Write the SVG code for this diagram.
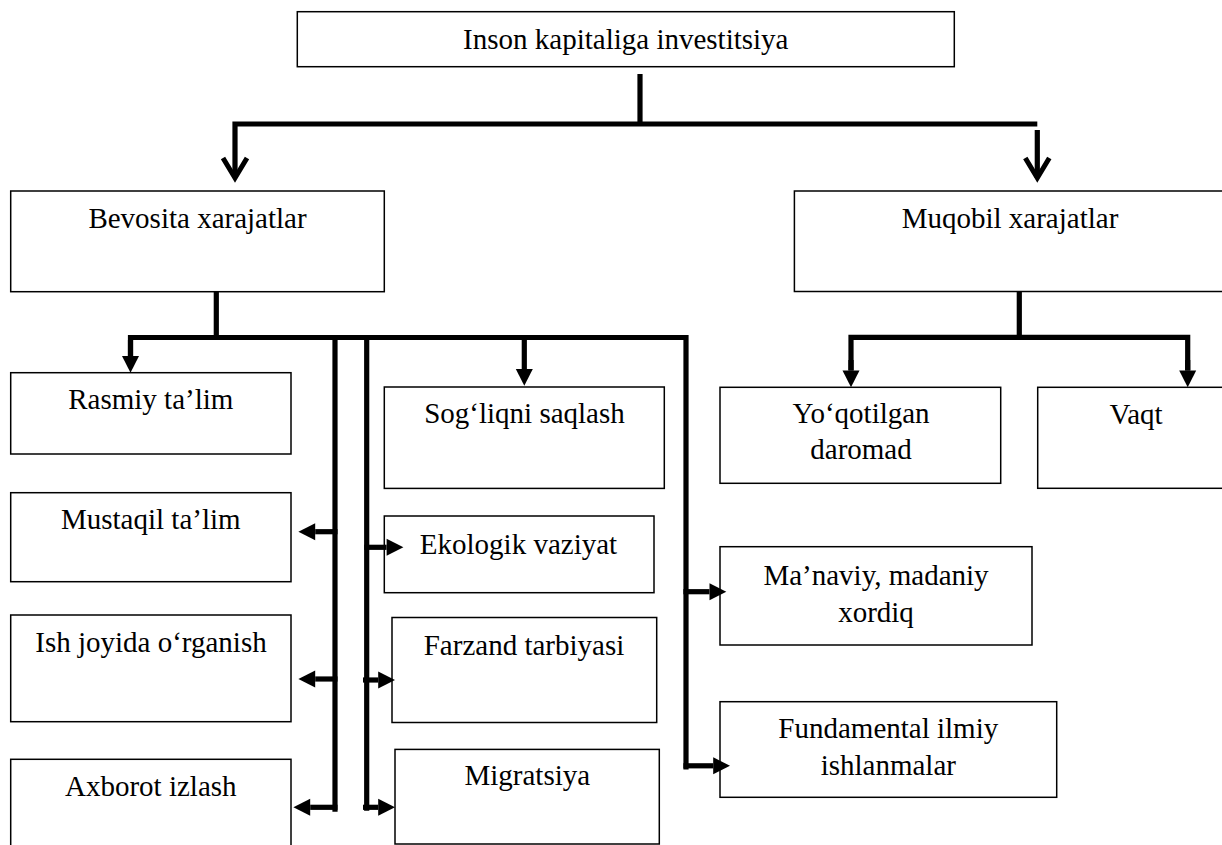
<svg xmlns="http://www.w3.org/2000/svg" width="1222" height="845" viewBox="0 0 1222 845">
<style>
.box{fill:#fff;stroke:#000;stroke-width:1.5}
.t{font-family:"Liberation Serif","Times New Roman",serif;font-size:29px;fill:#000;text-anchor:middle}
.ln{fill:none;stroke:#000;stroke-width:5.2;stroke-linecap:butt;stroke-linejoin:miter}
.ar{fill:none;stroke:#000;stroke-width:5.2;marker-end:url(#ah)}
.chev{fill:none;stroke:#000;stroke-width:5;stroke-linejoin:miter;stroke-miterlimit:10}
</style>
<defs>
<marker id="ah" markerUnits="userSpaceOnUse" markerWidth="18" markerHeight="18" refX="0" refY="8.5" orient="auto" overflow="visible">
<path d="M0,0 L16.8,8.5 L0,17 Z" fill="#000"/>
</marker>
</defs>
<rect width="1222" height="845" fill="#fff"/>

<g id="node-top"><rect class="box" x="297.3" y="11.7" width="657" height="55"/><text class="t" x="625.8" y="48.5">Inson kapitaliga investitsiya</text></g>
<g id="node-bevosita"><rect class="box" x="10.7" y="191" width="373.6" height="100.7"/><text class="t" x="197.5" y="228">Bevosita xarajatlar</text></g>
<g id="node-muqobil"><rect class="box" x="794.4" y="191" width="440" height="100.5"/><text class="t" x="1010" y="228.3">Muqobil xarajatlar</text></g>
<g id="node-rasmiy"><rect class="box" x="10.7" y="372.7" width="280.3" height="81.3"/><text class="t" x="150.8" y="409.3">Rasmiy ta’lim</text></g>
<g id="node-mustaqil"><rect class="box" x="10.7" y="492.7" width="280.3" height="89"/><text class="t" x="150.8" y="529.3">Mustaqil ta’lim</text></g>
<g id="node-ish"><rect class="box" x="10.7" y="615" width="280.3" height="106.7"/><text class="t" x="151" y="651.7">Ish joyida o‘rganish</text></g>
<g id="node-axborot"><rect class="box" x="10.7" y="759.3" width="280.3" height="100"/><text class="t" x="150.8" y="796">Axborot izlash</text></g>
<g id="node-sogliqni"><rect class="box" x="384.3" y="387" width="280" height="101.4"/><text class="t" x="524.5" y="423.4">Sog‘liqni saqlash</text></g>
<g id="node-ekologik"><rect class="box" x="384.3" y="516" width="269.7" height="76.7"/><text class="t" x="518.5" y="553.7">Ekologik vaziyat</text></g>
<g id="node-farzand"><rect class="box" x="392" y="617.5" width="264.7" height="105"/><text class="t" x="524" y="654.5">Farzand tarbiyasi</text></g>
<g id="node-migratsiya"><rect class="box" x="395" y="749.4" width="264.3" height="94.6"/><text class="t" x="527.3" y="785">Migratsiya</text></g>
<g id="node-yoqotilgan"><rect class="box" x="720" y="387.3" width="280.7" height="96"/><text class="t" x="861" y="423.3">Yo‘qotilgan</text><text class="t" x="861" y="459.3">daromad</text></g>
<g id="node-vaqt"><rect class="box" x="1037.7" y="387.3" width="200" height="101"/><text class="t" x="1136" y="424">Vaqt</text></g>
<g id="node-manaviy"><rect class="box" x="720" y="546.7" width="312" height="98.3"/><text class="t" x="876" y="585">Ma’naviy, madaniy</text><text class="t" x="876" y="621.7">xordiq</text></g>
<g id="node-fundamental"><rect class="box" x="720" y="701.7" width="336.7" height="95.6"/><text class="t" x="888.3" y="738.3">Fundamental ilmiy</text><text class="t" x="888.3" y="775">ishlanmalar</text></g>

<g id="connectors">
<path class="ln" d="M640,74 V124"/>
<path class="ln" d="M235,178 V124 H1037.3"/>
<path class="ln" d="M1037.3,130 V178"/>
<polyline class="chev" points="223,158 235,178 247,158"/>
<polyline class="chev" points="1025.3,158 1037.3,178 1049.3,158"/>
<path class="ln" d="M216.3,291 V337.5"/>
<path class="ln" d="M130.5,356 V337.5 H686 V769.5"/>
<path class="ar" d="M130.5,340 V356"/>
<path class="ar" d="M524.3,337.5 V369"/>
<path class="ln" d="M335,335 V811.7"/>
<path class="ln" d="M366.7,335 V810.7"/>
<path class="ar" d="M337.5,531.7 H315.2"/>
<path class="ar" d="M337.5,679 H315.2"/>
<path class="ar" d="M337.5,807.3 H310.2"/>
<path class="ar" d="M364.2,547.3 H386.6"/>
<path class="ar" d="M363,680 H378.2"/>
<path class="ar" d="M363,807.3 H378.2"/>
<path class="ar" d="M683.4,591.7 H709.5"/>
<path class="ar" d="M683.4,765.8 H713.2"/>
<path class="ln" d="M1019.3,291 V337.3"/>
<path class="ln" d="M851,370.5 V337.3 H1187.7 V370.5"/>
<path class="ar" d="M851,360 V370.5"/>
<path class="ar" d="M1187.7,360 V370.5"/>
</g>
</svg>
